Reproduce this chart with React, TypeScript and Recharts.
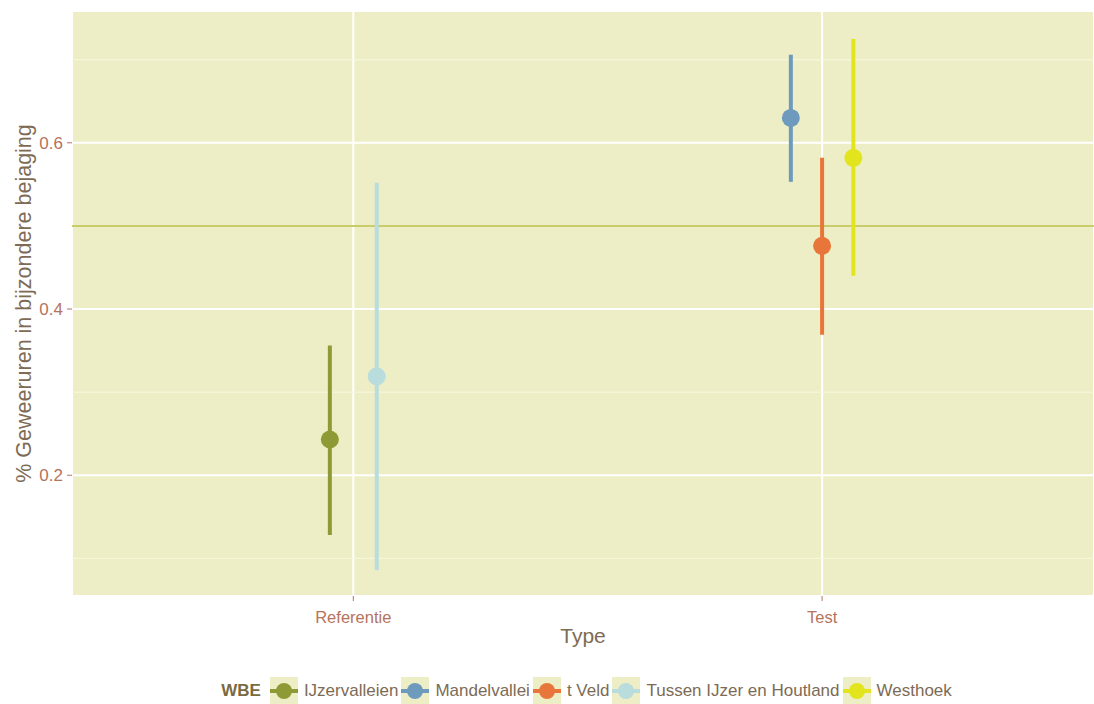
import React from "react";
import {
  ScatterChart,
  Scatter,
  XAxis,
  YAxis,
  CartesianGrid,
  ReferenceLine,
  ErrorBar,
} from "recharts";

// categorieën op de x-as
const types = ["Referentie", "Test"];

// WBE's met hun type, gemiddelde en betrouwbaarheidsinterval
const wbeNames = ["IJzervalleien", "Mandelvallei", "t Veld", "Tussen IJzer en Houtland", "Westhoek"];
const wbeType = ["Referentie", "Test", "Test", "Referentie", "Test"];
const meanValues = [0.243, 0.63, 0.476, 0.319, 0.582];
const lowerValues = [0.128, 0.553, 0.369, 0.086, 0.44];
const upperValues = [0.356, 0.706, 0.582, 0.552, 0.725];
const wbeColors = ["#8e9a36", "#6e9bbd", "#e8763a", "#b9dcdc", "#e2e51e"];

const yTicks = [0.2, 0.4, 0.6];
const yMinor = [0.1, 0.3, 0.7];
const refLevel = 0.5;

const BG = "#eeeec6";
const TICK_COLOR = "#b5735c";
const TITLE_COLOR = "#7d6b55";
const FONT = "'Liberation Sans', Arial, sans-serif";
const DODGE = 0.2;

// positie binnen categorie zoals position_dodge
function dodgeX(i: number): number {
  const t = wbeType[i];
  const group = wbeNames.map((n, j) => j).filter(j => wbeType[j] === t);
  const n = group.length;
  const k = group.indexOf(i);
  return types.indexOf(t) + 1 + (k - (n - 1) / 2) * (DODGE / n);
}

const seriesData = wbeNames.map((name, i) => [
  {
    x: dodgeX(i),
    y: meanValues[i],
    err: [meanValues[i] - lowerValues[i], upperValues[i] - meanValues[i]],
  },
]);

function Dot(props: any) {
  const { cx, cy, fill } = props;
  return <circle cx={cx} cy={cy} r={9} fill={fill} />;
}

function LegendBox() {
  return (
    <div
      style={{
        position: "absolute",
        top: 677,
        left: 72,
        width: 1032,
        display: "flex",
        justifyContent: "center",
        alignItems: "center",
        fontFamily: FONT,
        fontSize: 17,
        color: TITLE_COLOR,
      }}
    >
      <span style={{ fontWeight: "bold", color: "#7a6a40", marginRight: 9 }}>WBE</span>
      {wbeNames.map((name, i) => (
        <span key={name} style={{ display: "flex", alignItems: "center" }}>
          <svg width={28} height={28} style={{ background: BG }}>
            <line x1={0} y1={14} x2={28} y2={14} stroke={wbeColors[i]} strokeWidth={4} />
            <circle cx={14} cy={14} r={8} fill={wbeColors[i]} />
          </svg>
          <span style={{ marginLeft: 6, marginRight: 3 }}>{name}</span>
        </span>
      ))}
    </div>
  );
}

export default function App(): React.JSX.Element {
  return (
    <div style={{ position: "absolute", left: 0, top: 0, width: 1094, height: 704, background: "#fff" }}>
      <ScatterChart width={1094} height={704} margin={{ top: 11, right: 0, left: 0, bottom: 0 }}>
        <CartesianGrid fill={BG} fillOpacity={1} stroke="#ffffff" strokeWidth={2} />
        {yMinor.map(v => (
          <ReferenceLine key={v} y={v} stroke="#f7f7e0" strokeWidth={1} />
        ))}
        <ReferenceLine y={refLevel} stroke="#c9cc6a" strokeWidth={2} />
        <XAxis
          type="number"
          dataKey="x"
          domain={[0.4, 2.58]}
          ticks={[1, 2]}
          tickFormatter={(v: number) => types[v - 1]}
          height={108}
          axisLine={false}
          tickSize={5}
          tickMargin={10}
          tickLine={{ stroke: TICK_COLOR }}
          tick={{ fill: TICK_COLOR, fontSize: 16.5, fontFamily: FONT }}
          allowDataOverflow
          label={{
            value: "Type",
            position: "insideTop",
            offset: 32,
            fill: TITLE_COLOR,
            fontSize: 21,
            fontFamily: FONT,
          }}
        />
        <YAxis
          type="number"
          dataKey="y"
          domain={[0.0547, 0.7586]}
          ticks={yTicks}
          width={72}
          axisLine={false}
          tickSize={5}
          tickMargin={4}
          tickLine={{ stroke: TICK_COLOR }}
          tick={{ fill: TICK_COLOR, fontSize: 17, fontFamily: FONT }}
          allowDataOverflow
          label={{
            value: "% Geweeruren in bijzondere bejaging",
            angle: -90,
            position: "insideLeft",
            offset: 23,
            fill: TITLE_COLOR,
            fontSize: 21.5,
            fontFamily: FONT,
            style: { textAnchor: "middle" },
          }}
        />
        {wbeNames.map((name, i) => (
          <Scatter
            key={name}
            name={name}
            data={seriesData[i]}
            fill={wbeColors[i]}
            shape={<Dot />}
            isAnimationActive={false}
          >
            <ErrorBar
              dataKey="err"
              direction="y"
              width={0}
              stroke={wbeColors[i]}
              strokeWidth={4}
              isAnimationActive={false}
            />
          </Scatter>
        ))}
      </ScatterChart>
      <LegendBox />
    </div>
  );
}
